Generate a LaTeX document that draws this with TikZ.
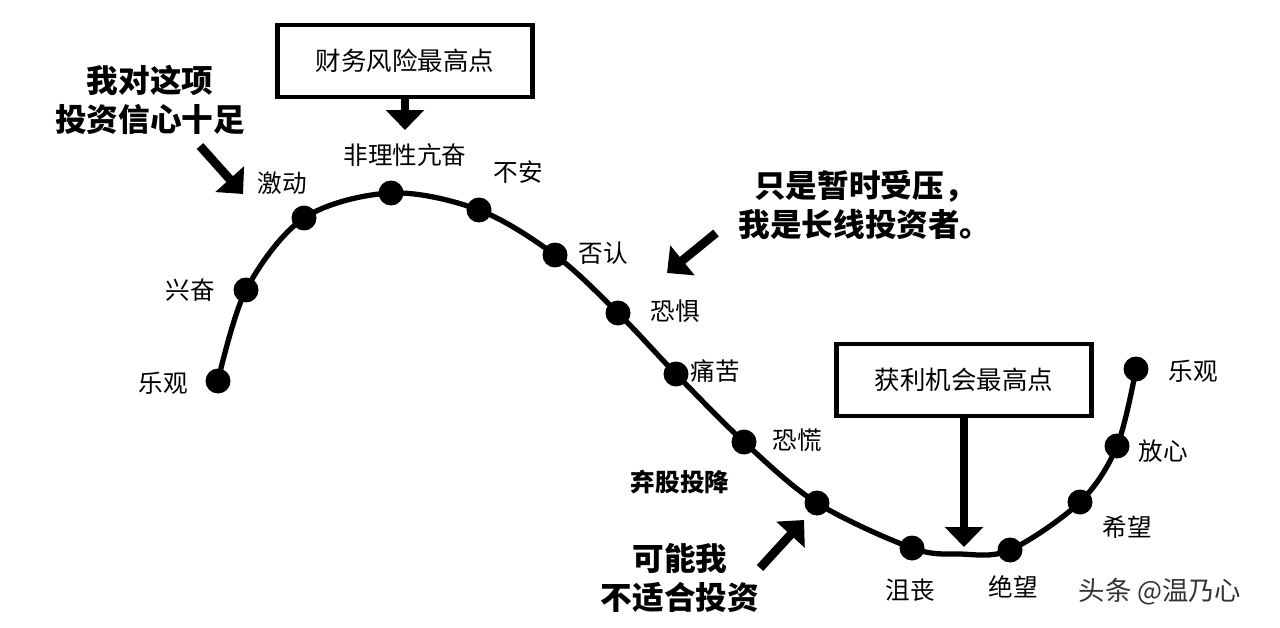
\documentclass[tikz,border=0pt]{standalone}
\usepackage{fontspec}
\setmainfont{Noto Sans CJK SC}
\usetikzlibrary{arrows.meta}
\begin{document}
\begin{tikzpicture}[x=0.02cm,y=-0.02cm,
  dotn/.style={circle,fill=black,inner sep=0pt,minimum size=0.5cm},
  lbl/.style={font=\fontsize{14}{16}\selectfont},
  big/.style={font=\fontsize{18}{22}\selectfont\bfseries,align=center},
  bx/.style={draw,line width=2.4pt,minimum width=5.1cm,minimum height=1.45cm,font=\fontsize{14.5}{16}\selectfont},
  bar/.style={line width=5pt,-{Triangle[length=0.4cm,width=0.75cm]}}]
\useasboundingbox (0,0) rectangle (1280,628);
\draw[line width=3pt] plot[smooth,tension=0.55] coordinates {(218,381)(246,290)(304,218)(391,193)(479,210)(555,255)(618,313)(676,374)(744,442)(817,503)(912,548)(960,554)(1010,550)(1080,502)(1117,446)(1136,369)};
\foreach \n/\p in {d1/{218,381},d2/{246,290},d3/{304,218},d4/{391,193},d5/{479,210},d6/{555,255},d7/{618,313},d8/{676,374},d9/{744,442},d10/{817,503},d11/{912,548},d12/{1010,550},d13/{1080,502},d14/{1117,446},d15/{1136,369}}
  \node[dotn] (\n) at (\p) {};
\node[lbl] (l1) at (163,383) {乐观};
\node[lbl] (l2) at (190,290) {兴奋};
\node[lbl] (l3) at (282,183) {激动};
\node[lbl] (l4) at (405,155) {非理性亢奋};
\node[lbl] (l5) at (518,172) {不安};
\node[lbl] (l6) at (603,253) {否认};
\node[lbl] (l7) at (675,311) {恐惧};
\node[lbl] (l8) at (715,371) {痛苦};
\node[lbl] (l9) at (797,440) {恐慌};
\node[lbl,font=\fontsize{14}{16}\selectfont\bfseries] (l10) at (680,482) {弃股投降};
\node[lbl] (l11) at (910,590) {沮丧};
\node[lbl] (l12) at (1013,587) {绝望};
\node[lbl] (l13) at (1127,527) {希望};
\node[lbl] (l14) at (1163,451) {放心};
\node[lbl] (l15) at (1193,371) {乐观};
\node[bx] (b1) at (405,61) {财务风险最高点};
\node[bx] (b2) at (964,380) {获利机会最高点};
\coordinate (a1) at (405,130);
\coordinate (a2) at (964,547);
\draw[bar] (b1.south) -- (a1);
\draw[bar] (b2.south) -- (a2);
\node[big] (t1) at (150,100) {我对这项\\投资信心十足};
\node[big] (t2) at (865,205) {只是暂时受压，\\我是长线投资者。};
\node[big] (t3) at (680,578) {可能我\\不适合投资};
\coordinate (s1) at (200,146); \coordinate (e1) at (243,194);
\coordinate (s2) at (716,233); \coordinate (e2) at (667,273);
\coordinate (s3) at (760,568); \coordinate (e3) at (804,520);
\draw[bar] (s1) -- (e1);
\draw[bar] (s2) -- (e2);
\draw[bar] (s3) -- (e3);
\node[font=\fontsize{15}{17}\selectfont,text=black!80] (wm) at (1160,592) {头条 @温乃心};
\end{tikzpicture}
\end{document}
